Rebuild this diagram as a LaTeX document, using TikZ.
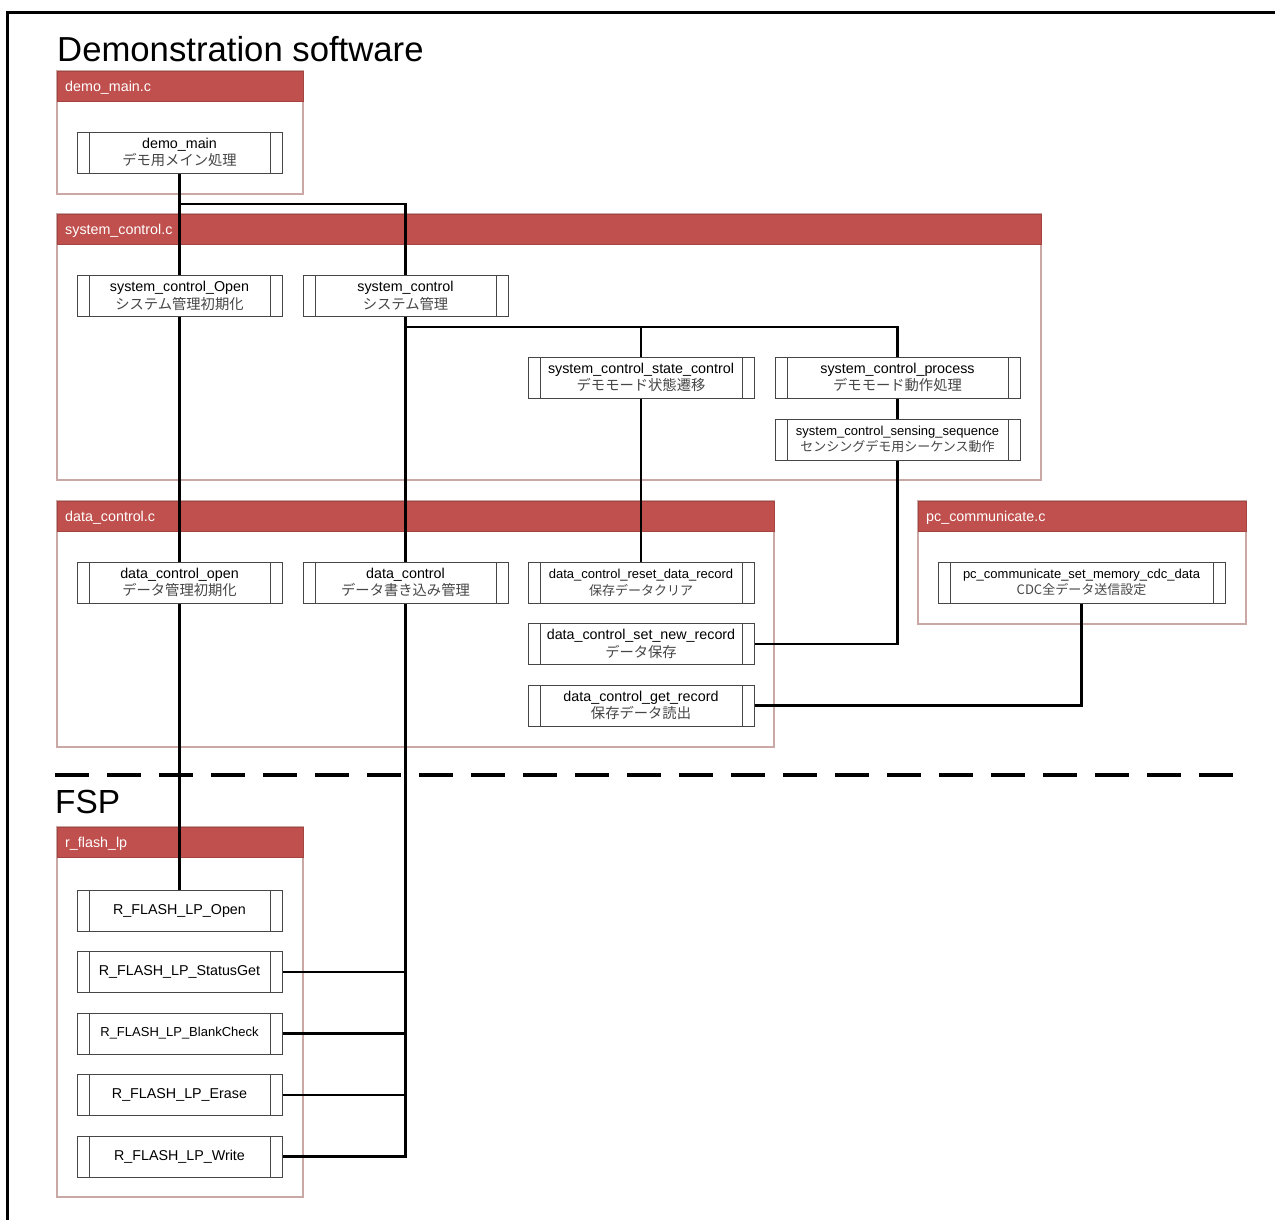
\documentclass[tikz,border=0pt]{standalone}
\usepackage{fontspec}
\setmainfont{Liberation Sans}
\newfontfamily\jpfont{Noto Sans CJK JP}
\usepackage{xcolor}
\usepackage{tikz}
\usetikzlibrary{positioning, backgrounds}

\definecolor{hdrred}{RGB}{192,80,77}
\definecolor{grpedge}{RGB}{201,168,166}
\definecolor{boxedge}{RGB}{70,70,70}
\definecolor{jpgray}{RGB}{70,70,70}

\newcommand{\fnfont}{\fontsize{14.3}{17.4}\selectfont}
\newcommand{\fnsmall}{\fontsize{13}{16.6}\selectfont}
\newcommand{\jtxt}[1]{{\jpfont\color{jpgray}#1}}

\tikzset{
  fnbox/.style={draw=boxedge, fill=white, line width=0.9pt, inner sep=0pt, outer sep=0pt,
    minimum width=205pt, minimum height=41pt, align=center, font=\fnfont,
    path picture={
      \draw[boxedge, line width=0.9pt]
        ([xshift=12pt]path picture bounding box.north west) -- ([xshift=12pt]path picture bounding box.south west)
        ([xshift=-12pt]path picture bounding box.north east) -- ([xshift=-12pt]path picture bounding box.south east);
    }},
  fnsm/.style={font=\fnsmall},
  grpframe/.style={draw=grpedge, line width=1.2pt, fill=white},
  grphead/.style={fill=hdrred, draw=hdrred!85!black, line width=0.6pt},
  grplabel/.style={anchor=base west, inner sep=0pt, text=white, font=\fontsize{14.3}{17}\selectfont},
  conn/.style={line width=2.6pt, black},
}

\begin{document}
\begin{tikzpicture}[x=1pt, y=-1pt]
  \useasboundingbox (0,0) rectangle (1275,1219);
  % outer frame
  \draw[line width=3pt] (7,1230) -- (7,12) -- (1290,12);

  \node[anchor=base west, inner sep=0pt, font=\fontsize{34.7}{40}\selectfont] (demotitle) at (57,61) {Demonstration software};
  \node[anchor=base west, inner sep=0pt, font=\fontsize{33.4}{40}\selectfont] (fsptitle) at (55,813) {FSP};

  % source file groups
  \begin{scope}[on background layer]
    \foreach \nm/\xa/\ya/\xb/\yb/\lbl in {%
        gdemo/57/71/303/194/demo\_main.c,%
        gsys/57/214/1041/480/system\_control.c,%
        gdata/57/501/774/747/data\_control.c,%
        gpc/918/501/1246/624/pc\_communicate.c,%
        gflash/57/827/303/1197/r\_flash\_lp}{
      \draw[grpframe] (\xa,\ya) rectangle (\xb,\yb);
      \draw[grphead] (\xa,\ya) rectangle (\xb,\ya+30);
      \node[grplabel] (\nm) at (\xa+8,\ya+20) {\lbl};
    }
  \end{scope}

  % application / FSP border
  \draw[line width=4pt, dash pattern=on 34pt off 18pt] (55,775) -- (1236,775);

  % functions
  \node[fnbox] (dmain) at (179.5,152.5) {demo\_main\\\jtxt{デモ用メイン処理}};
  \node[fnbox] (scopen) at (179.5,296) {system\_control\_Open\\\jtxt{システム管理初期化}};
  \node[fnbox] (sctrl) at (405.5,296) {system\_control\\\jtxt{システム管理}};
  \node[fnbox, minimum width=226pt] (scstate) at (641,377.5) {system\_control\_state\_control\\\jtxt{デモモード状態遷移}};
  \node[fnbox, minimum width=245pt] (scproc) at (897.5,377.5) {system\_control\_process\\\jtxt{デモモード動作処理}};
  \node[fnbox, fnsm, minimum width=245pt, below=21pt of scproc] (scsense) {system\_control\_sensing\_sequence\\\jtxt{センシングデモ用シーケンス動作}};

  \node[fnbox] (dcopen) at (179.5,582.5) {data\_control\_open\\\jtxt{データ管理初期化}};
  \node[fnbox] (dctrl) at (405.5,582.5) {data\_control\\\jtxt{データ書き込み管理}};
  \node[fnbox, fnsm, minimum width=226pt] (dcreset) at (641,582.5) {data\_control\_reset\_data\_record\\\jtxt{保存データクリア}};
  \node[fnbox, minimum width=226pt, below=20.5pt of dcreset] (dcsetnew) {data\_control\_set\_new\_record\\\jtxt{データ保存}};
  \node[fnbox, minimum width=226pt, below=20.5pt of dcsetnew] (dcget) {data\_control\_get\_record\\\jtxt{保存データ読出}};
  \node[fnbox, fnsm, minimum width=287pt] (pcset) at (1081.5,582.5) {pc\_communicate\_set\_memory\_cdc\_data\\\jtxt{CDC全データ送信設定}};

  \node[fnbox] (flopen) at (179.5,910.5) {R\_FLASH\_LP\_Open};
  \node[fnbox, below=20.5pt of flopen] (flstat) {R\_FLASH\_LP\_StatusGet};
  \node[fnbox, fnsm, below=20.5pt of flstat] (flblank) {R\_FLASH\_LP\_BlankCheck};
  \node[fnbox, below=20.5pt of flblank] (flerase) {R\_FLASH\_LP\_Erase};
  \node[fnbox, below=20.5pt of flerase] (flwrite) {R\_FLASH\_LP\_Write};

  % call lines
  \begin{scope}[on background layer]
    \draw[conn] (dmain.south) -- (scopen.north);
    \draw[conn] (scopen.south) -- (dcopen.north);
    \draw[conn] (dcopen.south) -- (flopen.north);
    \draw[conn] (dmain.south) -- ++(0,31) -| (sctrl.north);
    \draw[conn] (sctrl.south) -- (dctrl.north);
    \draw[conn] (dctrl.south) |- (flwrite.east);
    \foreach \f in {flstat,flblank,flerase}
      \draw[conn] (\f.east) -- (\f.east -| dctrl.south);
    \draw[conn] (sctrl.south) |- ([yshift=30pt]scproc.north) -- (scproc.north);
    \draw[conn] (sctrl.south) |- ([yshift=30pt]scstate.north) -- (scstate.north);
    \draw[conn] (scstate.south) -- (dcreset.north);
    \draw[conn] (scproc.south) -- (scsense.north);
    \draw[conn] (scsense.south) |- (dcsetnew.east);
    \draw[conn] (pcset.south) |- (dcget.east);
  \end{scope}
\end{tikzpicture}
\end{document}
